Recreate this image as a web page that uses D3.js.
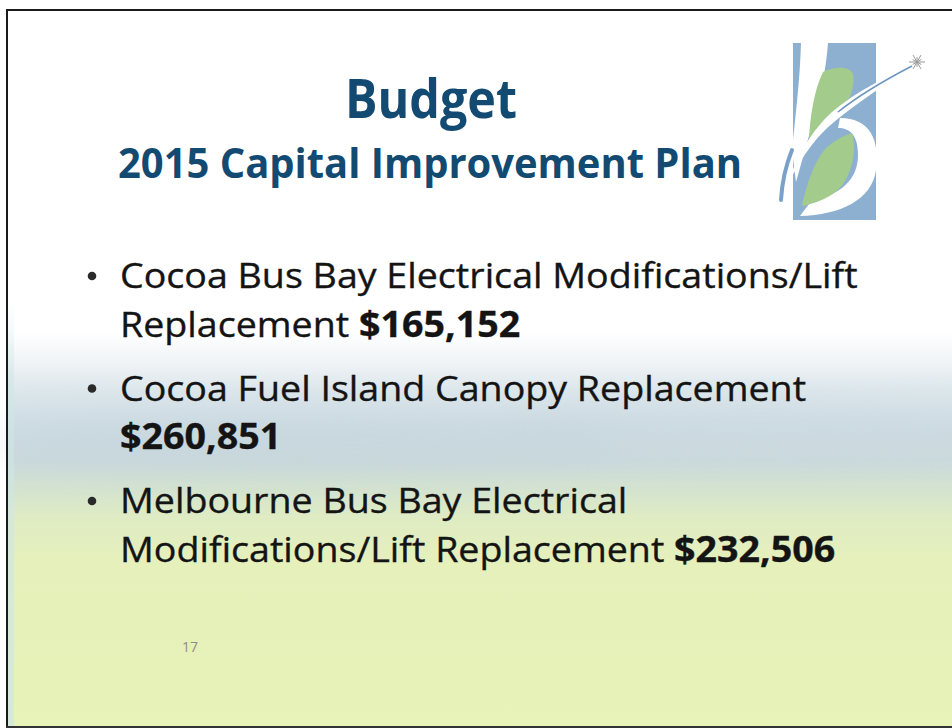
<!DOCTYPE html>
<html>
<head>
<meta charset="utf-8">
<script src="https://cdnjs.cloudflare.com/ajax/libs/d3/7.8.5/d3.min.js"></script>
<style>
  html, body { margin: 0; padding: 0; background: #fff; }
  svg { display: block; }
</style>
</head>
<body>
<svg id="slide" width="952" height="728"></svg>
<script>
// ---- Content ----
const slideTitle = "Budget";
const slideSubtitle = "2015 Capital Improvement Plan";
const projects = [
  "Cocoa Bus Bay Electrical Modifications/Lift Replacement",
  "Cocoa Fuel Island Canopy Replacement",
  "Melbourne Bus Bay Electrical Modifications/Lift Replacement"
];
const amounts = [165152, 260851, 232506];
const pageNumber = "17";

const fmt = d3.format("$,");
const svg = d3.select("#slide");
const W = 952, H = 728;
const bodyFont = "'Open Sans', 'Noto Sans', sans-serif";

// ---- Background ----
const defs = svg.append("defs");
const bg = defs.append("linearGradient").attr("id", "bg")
  .attr("x1", 0).attr("y1", 0).attr("x2", 0).attr("y2", 1);
[[0, "#ffffff"], [0.45, "#ffffff"], [0.49, "#f0f4f6"], [0.53, "#dde7ec"],
 [0.58, "#d0dde4"], [0.63, "#cbdadc"], [0.67, "#d4e3cf"], [0.71, "#dfecc3"],
 [0.77, "#e5f0bb"], [1, "#e8f3b8"]]
  .forEach(([o, c]) => bg.append("stop").attr("offset", o).attr("stop-color", c));
const edge = defs.append("linearGradient").attr("id", "edge")
  .attr("x1", 0).attr("y1", 0).attr("x2", 0).attr("y2", 1);
[[0, "#cfe6e6", 0], [0.2, "#cfe6e6", 0.6], [1, "#cfe6e6", 0.7]]
  .forEach(([o, c, a]) => edge.append("stop").attr("offset", o).attr("stop-color", c).attr("stop-opacity", a));

svg.append("rect").attr("width", W).attr("height", H).attr("fill", "#fff");
svg.append("rect").attr("x", 7).attr("y", 10).attr("width", W - 7).attr("height", H - 12)
  .attr("fill", "url(#bg)");
// faint haze band
const blur = defs.append("filter").attr("id", "blur").attr("x", "-20%").attr("y", "-50%")
  .attr("width", "140%").attr("height", "200%");
blur.append("feGaussianBlur").attr("stdDeviation", 18);
svg.append("ellipse").attr("cx", 300).attr("cy", 440).attr("rx", 320).attr("ry", 30)
  .attr("fill", "#bccfd9").attr("opacity", 0.3).attr("filter", "url(#blur)");
svg.append("ellipse").attr("cx", 760).attr("cy", 430).attr("rx", 260).attr("ry", 26)
  .attr("fill", "#c3d4dc").attr("opacity", 0.3).attr("filter", "url(#blur)");
// left edge tint
svg.append("rect").attr("x", 8).attr("y", 300).attr("width", 6).attr("height", 426)
  .attr("fill", "url(#edge)");

// frame lines (scan border)
svg.append("line").attr("x1", 6).attr("x2", W).attr("y1", 10).attr("y2", 10)
  .attr("stroke", "#1a1a1a").attr("stroke-width", 2);
svg.append("line").attr("x1", 7).attr("x2", 7).attr("y1", 9).attr("y2", 727)
  .attr("stroke", "#1a1a1a").attr("stroke-width", 2);
svg.append("line").attr("x1", 6).attr("x2", W).attr("y1", 727).attr("y2", 727)
  .attr("stroke", "#333").attr("stroke-width", 2);

// ---- Titles ----
function fitText(sel, width) {
  sel.attr("textLength", width).attr("lengthAdjust", "spacingAndGlyphs");
}
const titleColor = "#134a72";
const t1 = svg.append("text").attr("x", 345).attr("y", 118)
  .attr("font-family", bodyFont).attr("font-weight", 700).attr("font-size", 53)
  .attr("fill", titleColor).text(slideTitle);
fitText(t1, 172);
const t2 = svg.append("text").attr("x", 118).attr("y", 178)
  .attr("font-family", bodyFont).attr("font-weight", 700).attr("font-size", 42)
  .attr("fill", titleColor).text(slideSubtitle);
fitText(t2, 624);

// ---- Bullets ----
// line breaks as on the slide
const bulletLines = [
  [[{t: "Cocoa Bus Bay Electrical Modifications/Lift"}], [{t: "Replacement "}, {t: fmt(amounts[0]), b: true}]],
  [[{t: "Cocoa Fuel Island Canopy Replacement"}], [{t: fmt(amounts[1]), b: true}]],
  [[{t: "Melbourne Bus Bay Electrical"}], [{t: "Modifications/Lift Replacement "}, {t: fmt(amounts[2]), b: true}]]
];
const textX = 120, bulletX = 92;
const firstBaseline = 288, lineGap = 48.5, itemGap = 64;
const bodySize = 35;

const bodyG = svg.append("g");
let y = firstBaseline;
const lineNodes = [];
bulletLines.forEach((lines, i) => {
  bodyG.append("circle").attr("cx", bulletX).attr("cy", y - 12).attr("r", 4.3).attr("fill", "#2a2a2a");
  lines.forEach((segs, j) => {
    const g = bodyG.append("g").attr("transform", `translate(${textX},${y})`);
    const tx = g.append("text").attr("font-family", bodyFont).attr("font-size", bodySize)
      .attr("fill", "#141414").attr("stroke", "#141414").attr("stroke-width", 0.35)
      .attr("xml:space", "preserve");
    segs.forEach(s => tx.append("tspan").attr("font-weight", s.b ? 700 : 400).text(s.t));
    lineNodes.push(g);
    if (j < lines.length - 1) y += lineGap;
  });
  y += itemGap;
});
// condense horizontally so the widest line spans the slide as in the source
const widest = d3.max(lineNodes, g => g.select("text").node().getComputedTextLength());
const kx = 738 / widest;
lineNodes.forEach(g => {
  const tr = g.attr("transform");
  g.attr("transform", tr + ` scale(${kx},1)`);
});

// page number
svg.append("text").attr("x", 182).attr("y", 652).attr("font-family", bodyFont)
  .attr("font-size", 14).attr("fill", "#8c8c8c").text(pageNumber);

// ---- Logo ----
const logo = svg.append("g");
logo.append("rect").attr("x", 793).attr("y", 43).attr("width", 83).attr("height", 177).attr("fill", "#8db0d1");
// white b stem
logo.append("path").attr("fill", "#ffffff")
  .attr("d", "M801,43 L828,43 C826,70 820,100 812,125 L796,182 L792,150 C795,120 800,80 801,43 Z");
// white b bowl
logo.append("path").attr("fill", "#ffffff")
  .attr("d", "M840,118 C870,118 880,140 876,170 C872,200 840,215 800,216 L812,200 C840,195 858,180 858,155 C858,135 850,128 838,128 Z");
// upper green leaf
logo.append("path").attr("fill", "#a2cb8c")
  .attr("d", "M823,72 C835,66 850,66 853,74 C856,90 846,110 830,122 C822,128 814,134 809,139 C810,118 814,90 823,72 Z");
// lower green leaf
logo.append("path").attr("fill", "#a2cb8c")
  .attr("d", "M852,133 C857,150 852,176 838,190 C826,200 812,204 802,206 C806,185 815,160 826,148 C835,140 845,135 852,133 Z");
// white swoosh
logo.append("path").attr("fill", "#ffffff")
  .attr("d", "M916,62 C890,75 855,92 832,112 C812,130 795,158 783,196 C796,165 812,140 834,122 C858,102 890,82 916,62 Z");
// blue swoosh edge
logo.append("path").attr("fill", "none").attr("stroke", "#6d97c0").attr("stroke-width", 1.6)
  .attr("d", "M912,66 C885,80 858,96 838,112");
logo.append("path").attr("fill", "none").attr("stroke", "#7aa2c8").attr("stroke-width", 4)
  .attr("stroke-linecap", "round")
  .attr("d", "M792,150 C786,165 782,182 781,200");
// star
const star = logo.append("g").attr("transform", "translate(917,62)").attr("stroke", "#9a9a9a").attr("stroke-width", 1);
[0, 30, 60, 90, 120, 150].forEach(a => {
  const r = (a % 60 === 0) ? 8 : 5, rad = a * Math.PI / 180;
  star.append("line").attr("x1", -r * Math.cos(rad)).attr("y1", -r * Math.sin(rad))
    .attr("x2", r * Math.cos(rad)).attr("y2", r * Math.sin(rad));
});
</script>
</body>
</html>
